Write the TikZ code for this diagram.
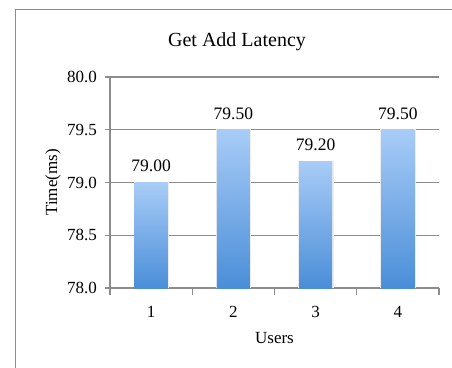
\documentclass[tikz,border=0pt]{standalone}
\usepackage{fontspec}
\setmainfont{Liberation Serif}
\begin{document}
\begin{tikzpicture}[x=1pt,y=1pt,
  frameline/.style={draw=black!45,line width=1.3pt},
  gridline/.style={draw=black!45,line width=1.1pt},
  bar/.style={top color=barTop,bottom color=barBot,draw=none},
  barshadow/.style={fill=black!7,draw=none},
  ticklab/.style={font=\fontsize{17}{20}\selectfont,inner sep=0pt},
  vallab/.style={font=\fontsize{17.5}{20}\selectfont,inner sep=0pt,anchor=base},
]
\definecolor{barTop}{HTML}{A8CCF7}
\definecolor{barBot}{HTML}{4A8ED8}
\useasboundingbox (0,0) rectangle (452,367);
\fill[white] (0,0) rectangle (452,367);

% chart area frame (left and top edges)
\coordinate (fbl) at (15.5,-2);
\coordinate (ftl) at (15.5,357.5);
\coordinate (ftr) at (454,357.5);
\draw[frameline] (fbl) -- (ftl) -- (ftr);

% title
\node[font=\fontsize{20}{24}\selectfont,inner sep=0pt] (title) at (237,325) {Get Add Latency};

% value axis: 78.0 at y=79, 105.5pt per ms
\foreach \v/\lab [count=\i] in {0/78.0,0.5/78.5,1/79.0,1.5/79.5,2/80.0}{
  \pgfmathsetmacro{\yy}{79+\v*105.5}
  \coordinate (gl\i) at (110,\yy);
  \coordinate (gr\i) at (439,\yy);
  \coordinate (gt\i) at (105,\yy);
  \draw[gridline] (gt\i) -- (gr\i);
  \node[ticklab,anchor=east] (yl\i) at (97,\yy) {\lab};
}
\draw[gridline] (gl1) -- (gl5);

% category ticks
\foreach \k in {0,...,4}{
  \pgfmathsetmacro{\xx}{110+\k*82.25}
  \coordinate (xt\k) at (\xx,79);
  \coordinate (xb\k) at (\xx,72);
  \draw[gridline] (xt\k) -- (xb\k);
}

% bars with soft shadow and value labels
\foreach \val/\lab [count=\i] in {1.0/79.00,1.5/79.50,1.2/79.20,1.5/79.50}{
  \pgfmathsetmacro{\cx}{110+(\i-0.5)*82.25}
  \pgfmathsetmacro{\ty}{79+\val*105.5}
  \fill[barshadow] (\cx-16.5-1,79) rectangle (\cx+16.5+1.5,\ty+0.5);
  \shade[bar] (\cx-16.5,79) rectangle (\cx+16.5,\ty);
  \node[vallab] (v\i) at (\cx,\ty+10.5) {\lab};
  \node[ticklab] (c\i) at (\cx,55) {\i};
}

% axis titles
\node[ticklab] (xtitle) at (274.5,29) {Users};
\node[ticklab,rotate=90] (ytitle) at (53,184.5) {Time(ms)};
\end{tikzpicture}
\end{document}
